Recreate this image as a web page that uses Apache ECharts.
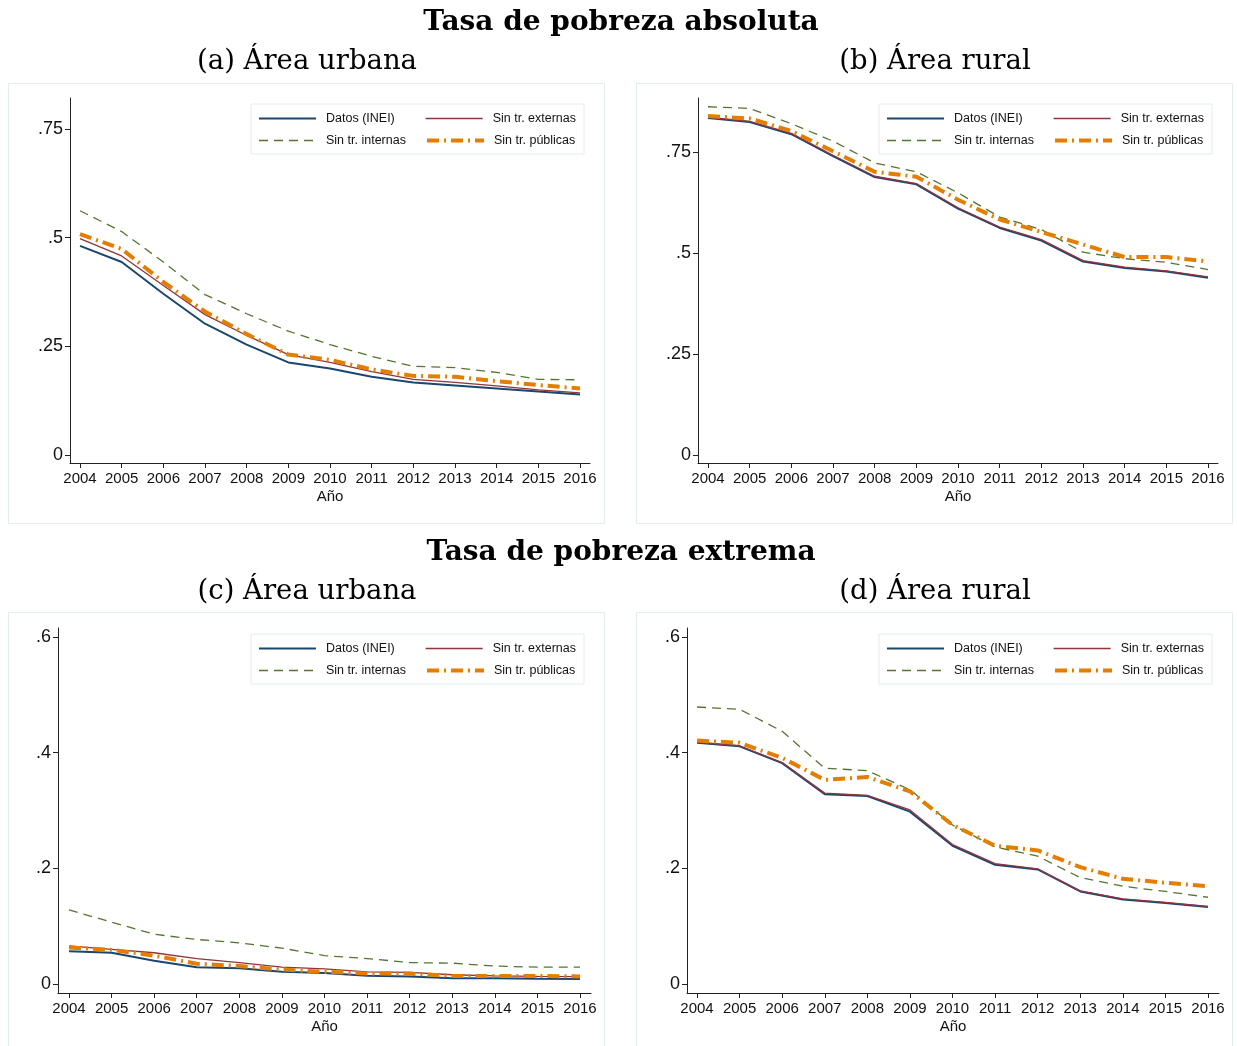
<!DOCTYPE html>
<html>
<head>
<meta charset="utf-8">
<script src="https://cdn.jsdelivr.net/npm/echarts@6/dist/echarts.min.js"></script>
<style>html,body{margin:0;padding:0;background:#fff;}#c{width:1237px;height:1046px;}</style>
</head>
<body>
<div id="c"></div>
<script>
const years = [2004,2005,2006,2007,2008,2009,2010,2011,2012,2013,2014,2015,2016];
const seriesNames = ['Datos (INEI)','Sin tr. externas','Sin tr. internas','Sin tr. públicas'];

const absUrbDatos = [0.481,0.444,0.371,0.302,0.254,0.213,0.199,0.180,0.167,0.160,0.153,0.146,0.139];
const absUrbExt   = [0.498,0.458,0.390,0.323,0.275,0.231,0.213,0.192,0.174,0.167,0.159,0.150,0.143];
const absUrbInt   = [0.562,0.514,0.444,0.369,0.325,0.285,0.254,0.227,0.204,0.201,0.190,0.174,0.173];
const absUrbPub   = [0.508,0.474,0.398,0.330,0.278,0.231,0.219,0.197,0.182,0.180,0.170,0.161,0.153];

const absRurDatos = [0.834,0.824,0.794,0.740,0.688,0.670,0.610,0.562,0.531,0.479,0.463,0.454,0.439];
const absRurExt   = [0.836,0.826,0.796,0.742,0.690,0.672,0.612,0.564,0.533,0.481,0.465,0.456,0.441];
const absRurInt   = [0.862,0.858,0.820,0.777,0.723,0.701,0.649,0.589,0.558,0.502,0.486,0.477,0.459];
const absRurPub   = [0.839,0.833,0.802,0.752,0.701,0.689,0.632,0.583,0.552,0.521,0.490,0.490,0.479];

const extUrbDatos = [0.0565,0.054,0.040,0.029,0.027,0.021,0.019,0.0144,0.013,0.0098,0.0098,0.009,0.0086];
const extUrbExt   = [0.066,0.060,0.054,0.044,0.037,0.029,0.026,0.021,0.020,0.016,0.014,0.013,0.0127];
const extUrbInt   = [0.128,0.107,0.086,0.077,0.071,0.062,0.049,0.044,0.037,0.036,0.031,0.029,0.029];
const extUrbPub   = [0.063,0.059,0.049,0.035,0.031,0.025,0.021,0.018,0.018,0.014,0.014,0.014,0.013];

const extRurDatos = [0.417,0.411,0.382,0.328,0.325,0.298,0.239,0.206,0.198,0.160,0.146,0.140,0.133];
const extRurExt   = [0.418,0.412,0.383,0.330,0.326,0.301,0.241,0.208,0.199,0.161,0.147,0.141,0.134];
const extRurInt   = [0.479,0.475,0.437,0.373,0.369,0.336,0.275,0.237,0.221,0.184,0.169,0.160,0.150];
const extRurPub   = [0.421,0.417,0.391,0.353,0.358,0.333,0.275,0.239,0.231,0.202,0.182,0.175,0.169];

const ticksAbs = [0, 0.25, 0.5, 0.75];
const ticksExt = [0, 0.2, 0.4, 0.6];

const panels = [
  {data:[absUrbDatos,absUrbExt,absUrbInt,absUrbPub], grid:{left:70, top:98, width:520, height:365}, x:[2003.76,2016.24], y:[-0.0184,0.8213], ticks:ticksAbs, legend:{left:251, top:104}},
  {data:[absRurDatos,absRurExt,absRurInt,absRurPub], grid:{left:698, top:98, width:520, height:365}, x:[2003.76,2016.24], y:[-0.0198,0.8837], ticks:ticksAbs, legend:{left:879, top:104}},
  {data:[extUrbDatos,extUrbExt,extUrbInt,extUrbPub], grid:{left:58, top:628, width:533, height:365}, x:[2003.742,2016.258], y:[-0.0156,0.6156], ticks:ticksExt, legend:{left:251, top:634}},
  {data:[extRurDatos,extRurExt,extRurInt,extRurPub], grid:{left:687, top:628, width:532, height:365}, x:[2003.765,2016.258], y:[-0.0156,0.6156], ticks:ticksExt, legend:{left:879, top:634}}
];

const lineStyles = [
  {color:'#1a476f', width:2, type:'solid'},
  {color:'#90353b', width:1.3, type:'solid'},
  {color:'#55752f', width:1.3, type:[9,6]},
  {color:'#e37e00', width:4, type:[12,5,2,5]}
];

const axisColor = '#222';
const sans = 'Liberation Sans, Arial, sans-serif';
const xLabelFont = {fontFamily:sans, fontSize:15, color:'#111'};
const yLabelFont = {fontFamily:sans, fontSize:18, color:'#111'};
const fmtY = v => v === 0 ? '0' : String(v).replace(/^0/, '');

const legendTextBase = {fontFamily:sans, fontSize:12.5, color:'#111', padding:[0,0,0,5], lineHeight:15};
const legendData = seriesNames.map((n, k) => ({
  name:n,
  textStyle: (k % 2 === 0) ? Object.assign({width:92}, legendTextBase) : Object.assign({}, legendTextBase)
}));

const grid = [], xAxis = [], yAxis = [], series = [], legend = [];
panels.forEach((p, i) => {
  grid.push(Object.assign({outerBoundsMode:'none', containLabel:false, show:false}, p.grid));
  xAxis.push({
    type:'value', gridIndex:i, min:p.x[0], max:p.x[1],
    name:'Año', nameLocation:'middle', nameGap:26,
    nameTextStyle:Object.assign({}, xLabelFont),
    axisLine:{show:true, onZero:false, lineStyle:{color:axisColor, width:1}},
    axisTick:{show:true, length:5, inside:false, customValues:years, lineStyle:{color:axisColor}},
    axisLabel:Object.assign({show:true, margin:8, customValues:years, formatter: v => String(v)}, xLabelFont),
    splitLine:{show:false}
  });
  yAxis.push({
    type:'value', gridIndex:i, min:p.y[0], max:p.y[1],
    axisLine:{show:true, onZero:false, lineStyle:{color:axisColor, width:1}},
    axisTick:{show:true, length:5, inside:false, customValues:p.ticks, lineStyle:{color:axisColor}},
    axisLabel:Object.assign({show:true, margin:7, customValues:p.ticks, formatter: fmtY}, yLabelFont),
    splitLine:{show:false}
  });
  p.data.forEach((arr, k) => {
    series.push({
      name:seriesNames[k], type:'line', xAxisIndex:i, yAxisIndex:i,
      data: years.map((yr, j) => [yr, arr[j]]),
      showSymbol:false, symbol:'none', smooth:false, z:2+k,
      lineStyle:Object.assign({cap:'butt'}, lineStyles[k]),
      itemStyle:{color:lineStyles[k].color},
      emphasis:{disabled:true}, silent:true
    });
  });
  legend.push({
    left:p.legend.left, top:p.legend.top, orient:'horizontal', width:332,
    data:legendData, selectedMode:false,
    itemWidth:57, itemHeight:14, itemGap:7,
    padding:[7,8,6,7],
    itemStyle:{opacity:0},
    lineStyle:{width:'inherit'},
    borderColor:'#e3ecee', borderWidth:1, backgroundColor:'#fff',
    textStyle:Object.assign({}, legendTextBase)
  });
});

const serif = 'DejaVu Serif, Liberation Serif, serif';
const graphic = [
  {type:'rect', shape:{x:8.5, y:83.5, width:596, height:440}, style:{fill:'none', stroke:'#e3ecee', lineWidth:1}, z:-10, silent:true},
  {type:'rect', shape:{x:636.5, y:83.5, width:596, height:440}, style:{fill:'none', stroke:'#e3ecee', lineWidth:1}, z:-10, silent:true},
  {type:'rect', shape:{x:8.5, y:612.5, width:596, height:440}, style:{fill:'none', stroke:'#e3ecee', lineWidth:1}, z:-10, silent:true},
  {type:'rect', shape:{x:636.5, y:612.5, width:596, height:440}, style:{fill:'none', stroke:'#e3ecee', lineWidth:1}, z:-10, silent:true},
  {type:'text', x:621, y:23, style:{text:'Tasa de pobreza absoluta', font:'bold 28px '+serif, fill:'#000', align:'center', verticalAlign:'middle'}},
  {type:'text', x:307, y:62, style:{text:'(a) Área urbana', font:'27.5px '+serif, fill:'#000', align:'center', verticalAlign:'middle'}},
  {type:'text', x:935, y:62, style:{text:'(b) Área rural', font:'27.5px '+serif, fill:'#000', align:'center', verticalAlign:'middle'}},
  {type:'text', x:621, y:553, style:{text:'Tasa de pobreza extrema', font:'bold 28px '+serif, fill:'#000', align:'center', verticalAlign:'middle'}},
  {type:'text', x:307, y:592, style:{text:'(c) Área urbana', font:'27.5px '+serif, fill:'#000', align:'center', verticalAlign:'middle'}},
  {type:'text', x:935, y:592, style:{text:'(d) Área rural', font:'27.5px '+serif, fill:'#000', align:'center', verticalAlign:'middle'}}
];

const chart = echarts.init(document.getElementById('c'), null, {renderer:'canvas'});
chart.setOption({
  animation:false,
  backgroundColor:'#fff',
  grid, xAxis, yAxis, series, legend, graphic,
  tooltip:{show:false}
});
</script>
</body>
</html>
